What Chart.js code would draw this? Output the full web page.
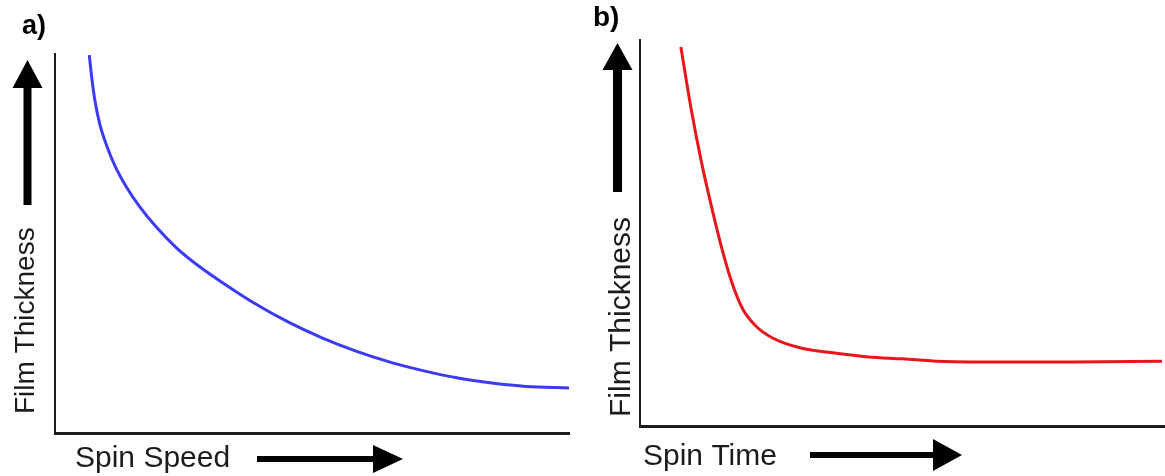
<!DOCTYPE html>
<html>
<head>
<meta charset="utf-8">
<title>Film Thickness</title>
<script src="https://cdn.jsdelivr.net/npm/chart.js@4/dist/chart.umd.min.js"></script>
<style>
  body { margin: 0; background: #fff; }
  #wrap { position: relative; width: 1165px; height: 476px; }
  .panel { position: absolute; top: 0; height: 476px; }
  #panelA { left: 0; width: 590px; }
  #panelB { left: 590px; width: 575px; }
</style>
</head>
<body>
<div id="wrap">
  <div class="panel" id="panelA"><canvas id="chartA"></canvas></div>
  <div class="panel" id="panelB"><canvas id="chartB"></canvas></div>
</div>
<script>
// (a) thickness vs spin speed, both axes 0..100 (arbitrary units)
const speedX     = [6.67, 7.14, 7.78, 8.75, 10.06, 11.67, 13.95, 16.54, 19.79, 23.68, 28.21, 32.68, 38.72, 45.33, 51.95, 58.56, 65.18, 71.79, 78.40, 85.02, 91.63, 100];
const thicknessA = [99.7, 93.9, 87.6, 81.3, 75.8, 70.5, 64.8, 59.6, 54.2, 48.8, 43.8, 39.6, 34.3, 29.3, 25.1, 21.6, 18.7, 16.4, 14.5, 13.2, 12.3, 11.9];

// (b) thickness vs spin time
const timeX      = [7.8, 9.7, 11.8, 13.7, 15.6, 17.5, 19.6, 22.1, 25.3, 30.7, 37.1, 43.6, 50.1, 56.6, 63.0, 69.5, 82.7, 99.6];
const thicknessB = [98.2, 82.6, 67.9, 56.5, 46.1, 37.3, 30.3, 25.9, 22.8, 20.2, 18.9, 17.9, 17.4, 16.8, 16.6, 16.6, 16.6, 16.8];

const panelLetters = ["a)", "b)"];
const xTitles = ["Spin Speed", "Spin Time"];
const yTitle = "Film Thickness";

const INK = "#1c1c1c";
const FONT = "'Liberation Sans', Arial, Helvetica, sans-serif";

function arrow(ctx, x0, y0, x1, y1, shaft, headLen, headW) {
  // filled arrow from (x0,y0) pointing to (x1,y1)
  const ang = Math.atan2(y1 - y0, x1 - x0);
  const len = Math.hypot(x1 - x0, y1 - y0);
  ctx.save();
  ctx.translate(x0, y0);
  ctx.rotate(ang);
  ctx.fillStyle = "#000";
  ctx.fillRect(0, -shaft / 2, len - headLen + 1, shaft);
  ctx.beginPath();
  ctx.moveTo(len, 0);
  ctx.lineTo(len - headLen, -headW / 2);
  ctx.lineTo(len - headLen, headW / 2);
  ctx.closePath();
  ctx.fill();
  ctx.restore();
}

// draws panel letter, axis titles and the direction arrows
const sketchLabels = {
  id: "sketchLabels",
  afterDraw(chart, args, o) {
    const ctx = chart.ctx;
    ctx.save();
    ctx.fillStyle = "#000";
    ctx.font = "bold " + o.letterSize + "px " + FONT;
    ctx.textBaseline = "alphabetic";
    ctx.textAlign = "left";
    ctx.fillText(o.letter, o.letterX, o.letterY);

    ctx.fillStyle = INK;
    ctx.font = o.xSize + "px " + FONT;
    ctx.fillText(o.xTitle, o.xTitleX, o.xTitleY);

    ctx.save();
    ctx.translate(o.yTitleX, o.yTitleY);
    ctx.rotate(-Math.PI / 2);
    ctx.font = o.ySize + "px " + FONT;
    ctx.fillText(o.yTitle, 0, 0);
    ctx.restore();

    const xa = o.xArrow, ya = o.yArrow;
    arrow(ctx, xa[0], xa[1], xa[2], xa[3], xa[4], xa[5], xa[6]);
    arrow(ctx, ya[0], ya[1], ya[2], ya[3], ya[4], ya[5], ya[6]);
    ctx.restore();
  }
};

function makeChart(id, xs, ys, color, padding, labels) {
  const points = xs.map((x, i) => ({ x: x, y: ys[i] }));
  return new Chart(document.getElementById(id), {
    type: "line",
    data: {
      datasets: [{
        data: points,
        borderColor: color,
        borderWidth: 3,
        pointRadius: 0,
        cubicInterpolationMode: "monotone",
        fill: false
      }]
    },
    options: {
      responsive: true,
      maintainAspectRatio: false,
      animation: false,
      layout: { padding: padding },
      scales: {
        x: {
          type: "linear", min: 0, max: 100,
          ticks: { display: false },
          grid: { display: false, drawTicks: false },
          border: { display: true, color: INK, width: 3 }
        },
        y: {
          min: 0, max: 100,
          ticks: { display: false },
          grid: { display: false, drawTicks: false },
          border: { display: true, color: INK, width: 2 }
        }
      },
      plugins: {
        legend: { display: false },
        tooltip: { enabled: false },
        sketchLabels: labels
      }
    },
    plugins: [sketchLabels]
  });
}

makeChart("chartA", speedX, thicknessA, "#3b3bf6",
  { left: 55, right: 21, top: 54, bottom: 43 },
  {
    letter: panelLetters[0], letterX: 22, letterY: 34, letterSize: 27,
    xTitle: xTitles[0], xTitleX: 75, xTitleY: 467, xSize: 30,
    yTitle: yTitle, yTitleX: 34, yTitleY: 414, ySize: 28,
    xArrow: [257, 459, 403, 459, 6, 30, 28],
    yArrow: [27.5, 205, 27.5, 60, 8, 28, 30]
  });

makeChart("chartB", timeX, thicknessB, "#e8161a",
  { left: 50, right: 1, top: 40, bottom: 50 },
  {
    letter: panelLetters[1], letterX: 3, letterY: 26, letterSize: 28,
    xTitle: xTitles[1], xTitleX: 53, xTitleY: 465, xSize: 30,
    yTitle: yTitle, yTitleX: 40, yTitleY: 417, ySize: 30,
    xArrow: [220, 455, 372, 455, 6, 29, 32],
    yArrow: [27.5, 192, 27.5, 43, 9, 27, 30]
  });
</script>
</body>
</html>
